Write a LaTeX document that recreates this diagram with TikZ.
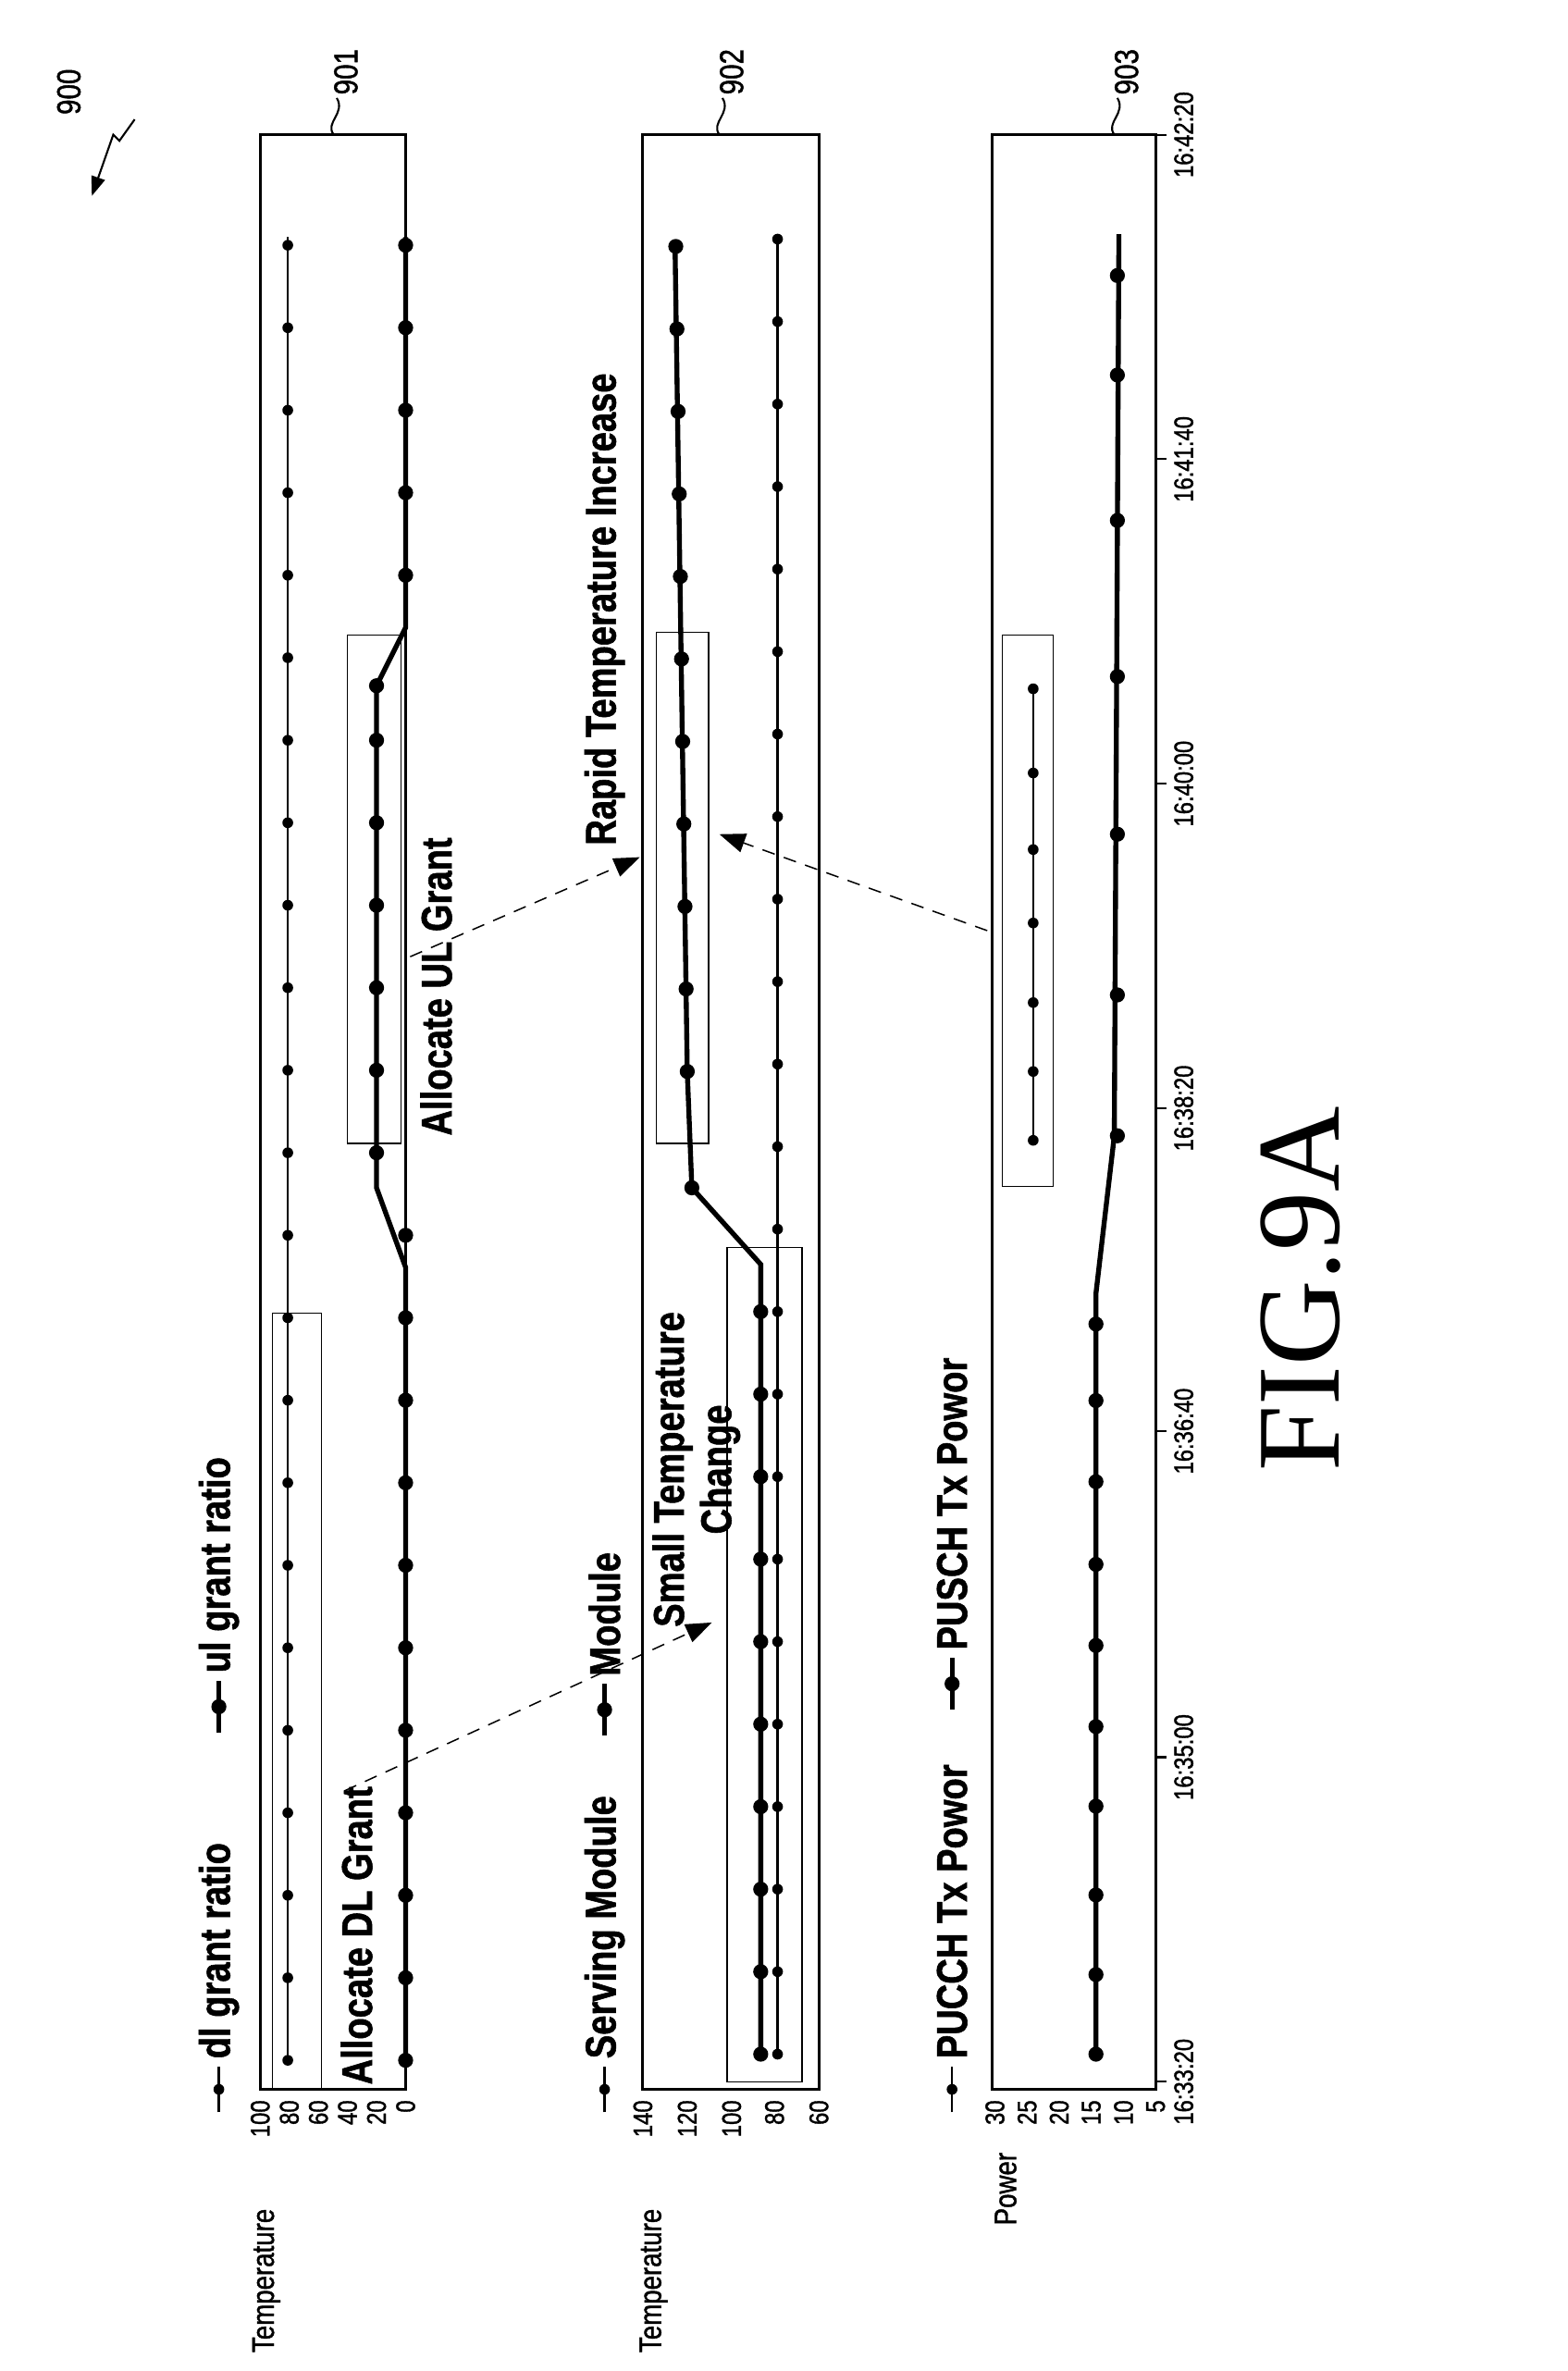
\documentclass[tikz,border=0pt]{standalone}
\usepackage{fontspec}
\setmainfont{Liberation Sans}[FakeStretch=0.82,FakeBold=1.2]
\newfontfamily\figfont{Liberation Serif}
\usetikzlibrary{arrows.meta}
\begin{document}
\begin{tikzpicture}[x=0.05cm,y=-0.05cm,
  panel/.style={draw,line width=2.6pt},
  hl/.style={draw,line width=1.1pt},
  thin/.style={line width=2.2pt},
  thick/.style={line width=4.6pt},
  lab/.style={rotate=90,font=\bfseries\fontsize{40}{44}\selectfont,inner sep=0},
  tick/.style={rotate=90,font=\fontsize{25}{27}\selectfont,inner sep=0},
  dasharrow/.style={dashed,line width=1.3pt,dash pattern=on 12pt off 9pt,-{Triangle[length=24pt,width=18pt]}}]
\useasboundingbox (0,0) rectangle (1024,1549);
% panels
\draw[panel] (170,88) rectangle (265,1365);
\draw[panel] (420,88) rectangle (535,1365);
\draw[panel] (648,88) rectangle (755,1365);
% highlight boxes
\draw[hl] (178,858) rectangle (210,1365);
\draw[hl] (227,415) rectangle (262,747);
\draw[hl] (429,413) rectangle (463,747);
\draw[hl] (475,815) rectangle (524,1360);
\draw[hl] (655,415) rectangle (688,775);
% 901 data
\draw[thin] (188,155) -- (188,1346);
\foreach \i in {0,...,22}{\fill (188,{1346-\i*53.9}) circle (5pt);}
\draw[thick] (265,1346) -- (265,828) -- (246,776) -- (246,448) -- (265,410) -- (265,155);
\foreach \i in {0,...,10}{\fill (265,{1346-\i*53.9}) circle (7pt);}
\foreach \i in {11,...,16}{\fill (246,{1346-\i*53.9}) circle (7pt);}
\fill (246,448) circle (7pt);
\foreach \i in {18,...,22}{\fill (265,{1346-\i*53.9}) circle (7pt);}
% 902 data
\draw[thin] (508,155) -- (508,1342);
\foreach \i in {0,...,22}{\fill (508,{1342-\i*53.9}) circle (5pt);}
\draw[thick] (497,1342) -- (497,826) -- (452,776) -- (449,700) -- (441,160);
\foreach \i in {0,...,9}{\fill (497,{1342-\i*53.9}) circle (7pt);}
\fill (452,776) circle (7pt);
\foreach \i in {0,...,10}{\fill ({449-\i*0.75},{700-\i*53.9}) circle (7pt);}
% 903 data
\draw[thin] (675,450) -- (675,745);
\foreach \y in {745,700,655,603,555,505,450}{\fill (675,\y) circle (5pt);}
\draw[thick] (716,1342) -- (716,845) -- (728,742) -- (731,153);
\foreach \y in {1342,1290,1238,1180,1128,1075,1022,968,915,865}{\fill (716,\y) circle (7pt);}
\foreach \y in {742,650,545,442,340,245,180}{\fill (730,\y) circle (7pt);}
% axis tick labels
\foreach \x/\t in {170/100,189/80,208/60,227/40,246/20,265/0}{\node[tick,anchor=east] (a\t) at (\x,1372) {\t};}
\foreach \x/\t in {420/140,449/120,478/100,506/80,535/60}{\node[tick,anchor=east] (b\t) at (\x,1372) {\t};}
\foreach \x/\t in {650/30,671/25,692/20,713/15,734/10,755/5}{\node[tick,anchor=east] (c\t) at (\x,1372) {\t};}
% time axis
\foreach \y/\t in {1360/16:33:20,1148/16:35:00,935/16:36:40,724/16:38:20,512/16:40:00,300/16:41:40,88/16:42:20}{
  \draw[line width=1.8pt] (755,\y) -- (762,\y);
  \node[tick,anchor=north] at (767,\y) {\t};}
% axis titles
\node[tick,font=\fontsize{29}{31}\selectfont] (t1) at (174,1490) {Temperature};
\node[tick,font=\fontsize{29}{31}\selectfont] (t2) at (427,1490) {Temperature};
\node[tick,font=\fontsize{29}{31}\selectfont] (t3) at (657,1430) {Power};
% legends
\draw[thin] (143,1380) -- (143,1350); \fill (143,1365) circle (5pt);
\node[lab,anchor=west] (l1) at (143,1345) {dl grant ratio};
\draw[thick] (143,1132) -- (143,1098); \fill (143,1115) circle (7pt);
\node[lab,anchor=west] (l2) at (143,1093) {ul grant ratio};
\draw[thin] (395,1380) -- (395,1350); \fill (395,1365) circle (5pt);
\node[lab,anchor=west] (l3) at (395,1345) {Serving Module};
\draw[thick] (395,1134) -- (395,1100); \fill (395,1117) circle (7pt);
\node[lab,anchor=west] (l4) at (395,1095) {Module};
\draw[thin] (622,1380) -- (622,1350); \fill (622,1365) circle (5pt);
\node[lab,anchor=west] (l5) at (622,1345) {PUCCH Tx Powor};
\draw[thick] (622,1117) -- (622,1083); \fill (622,1100) circle (7pt);
\node[lab,anchor=west] (l6) at (622,1078) {PUSCH Tx Powor};
% annotations
\node[lab,anchor=west] (n1) at (233,1362) {Allocate DL Grant};
\node[lab,anchor=west] (n2) at (285,742) {Allocate UL Grant};
\node[lab,align=center] (n3) at (455,960) {Small Temperature\\Change};
\node[lab] (n4) at (395,398) {Rapid Temperature Increase};
\coordinate (d1s) at (225,1170); \coordinate (d1e) at (465,1060);
\coordinate (d2s) at (268,625); \coordinate (d2e) at (418,560);
\coordinate (d3s) at (645,608); \coordinate (d3e) at (470,545);
\draw[dasharrow] (d1s) -- (d1e);
\draw[dasharrow] (d2s) -- (d2e);
\draw[dasharrow] (d3s) -- (d3e);
% reference numerals
\foreach \x/\t in {218/901,470/902,728/903}{
  \node[tick,font=\fontsize{31}{33}\selectfont,anchor=west] (r\t) at (\x+8,62) {\t};
  \draw[line width=1.8pt] (\x,88) .. controls (\x-6,80) and (\x+8,74) .. (\x+2,64);}
\node[tick,font=\fontsize{31}{33}\selectfont] (r900) at (45,60) {900};
\draw[line width=1.8pt,-{Triangle[length=18pt,width=13pt]}] (88,78) -- (78,92) -- (74,88) -- (60,128);
% figure label
\node[rotate=90,inner sep=0,font=\figfont\fontsize{110}{120}\selectfont] (fig) at (850,842) {FIG.9A};
\end{tikzpicture}
\end{document}
